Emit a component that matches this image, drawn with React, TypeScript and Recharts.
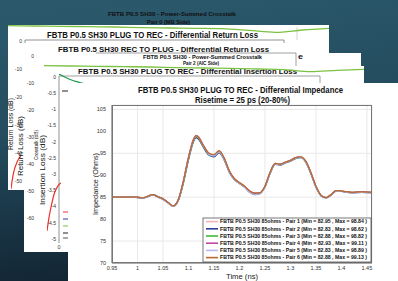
import React from "react";
import { LineChart, Line, XAxis, YAxis, CartesianGrid } from "recharts";

// main impedance plot
const TIME = [0.95, 0.97, 0.99, 1.0, 1.01, 1.02, 1.03, 1.04, 1.05, 1.06, 1.07, 1.08, 1.09, 1.1, 1.11, 1.115, 1.12, 1.13, 1.14, 1.15, 1.16, 1.17, 1.18, 1.19, 1.2, 1.21, 1.22, 1.23, 1.24, 1.25, 1.26, 1.27, 1.28, 1.29, 1.3, 1.31, 1.32, 1.33, 1.34, 1.35, 1.36, 1.37, 1.38, 1.39, 1.4, 1.42, 1.44, 1.46];
const PAIR1 = [85.0, 85.0, 85.0, 85.0, 84.8, 85.2, 85.6, 85.1, 84.6, 83.8, 83.0, 84.4, 88.5, 93.9, 98.0, 98.8, 98.4, 96.5, 95.0, 94.6, 95.5, 93.8, 91.0, 89.2, 88.3, 87.5, 86.4, 85.9, 86.0, 87.5, 90.6, 92.7, 92.5, 93.0, 93.4, 94.0, 94.2, 93.2, 90.6, 87.5, 85.4, 84.9, 85.6, 86.5, 86.4, 86.1, 86.2, 86.1];
const PAIR2 = [85.0, 85.0, 85.0, 84.9, 84.8, 85.1, 85.5, 85.0, 84.5, 83.7, 82.9, 84.2, 88.2, 93.5, 97.7, 98.6, 98.2, 96.2, 94.6, 94.2, 95.1, 93.5, 90.7, 89.0, 88.1, 87.3, 86.1, 85.6, 85.8, 87.3, 90.4, 92.5, 92.3, 92.8, 93.2, 93.8, 94.0, 93.0, 90.4, 87.3, 85.3, 84.8, 85.5, 86.4, 86.3, 86.0, 86.1, 86.0];
const PAIR3 = [85.0, 85.0, 85.0, 85.0, 84.8, 85.2, 85.6, 85.1, 84.6, 83.8, 83.0, 84.3, 88.4, 93.8, 97.9, 98.8, 98.4, 96.4, 94.8, 94.4, 95.3, 93.7, 90.9, 89.1, 88.2, 87.4, 86.3, 85.8, 85.9, 87.4, 90.5, 92.6, 92.4, 92.9, 93.3, 93.9, 94.1, 93.1, 90.5, 87.4, 85.4, 84.9, 85.6, 86.5, 86.4, 86.1, 86.2, 86.1];
const PAIR4 = [85.0, 85.0, 85.0, 85.0, 84.8, 85.2, 85.6, 85.1, 84.6, 83.8, 83.0, 84.4, 88.7, 94.1, 98.3, 99.1, 98.7, 96.7, 95.0, 94.6, 95.5, 93.9, 91.0, 89.2, 88.3, 87.5, 86.4, 85.9, 86.0, 87.5, 90.6, 92.7, 92.5, 93.0, 93.4, 94.0, 94.2, 93.2, 90.6, 87.5, 85.4, 84.9, 85.6, 86.5, 86.4, 86.1, 86.2, 86.1];
const PAIR5 = [85.0, 85.0, 85.0, 84.9, 84.8, 85.1, 85.5, 85.0, 84.5, 83.7, 82.9, 84.3, 88.5, 93.9, 98.0, 98.9, 98.5, 96.5, 94.8, 94.4, 95.3, 93.6, 90.8, 89.0, 88.1, 87.3, 86.1, 85.6, 85.8, 87.4, 90.5, 92.6, 92.4, 92.9, 93.3, 93.9, 94.1, 93.1, 90.5, 87.4, 85.3, 84.8, 85.5, 86.4, 86.3, 86.0, 86.1, 86.0];
const PAIR6 = [85.0, 85.0, 85.0, 85.0, 84.8, 85.2, 85.6, 85.1, 84.6, 83.8, 83.0, 84.4, 88.6, 94.0, 98.1, 99.0, 98.6, 96.6, 95.0, 94.7, 95.6, 93.9, 91.0, 89.2, 88.3, 87.5, 86.4, 85.9, 86.0, 87.5, 90.6, 92.7, 92.5, 93.0, 93.4, 94.0, 94.2, 93.2, 90.6, 87.5, 85.4, 84.9, 85.6, 86.5, 86.4, 86.1, 86.2, 86.1];

const X_TICKS = [0.95, 1, 1.05, 1.1, 1.15, 1.2, 1.25, 1.3, 1.35, 1.4, 1.45];
const Y_TICKS = [70, 75, 80, 85, 90, 95, 100, 105];

const PAIR_NAMES = ["Pair 1", "Pair 2", "Pair 3", "Pair 4", "Pair 5", "Pair 6"];
const PAIR_MIN = ["82.95", "82.83", "82.88", "82.93", "82.83", "82.88"];
const PAIR_MAX = ["98.84", "98.62", "98.82", "99.11", "98.89", "99.13"];
const PAIR_COLORS = ["#f5b3b3", "#2b3c9c", "#3dba3d", "#c7479f", "#b4b9ee", "#b86a2c"];

// bits of the screenshots stacked behind
const RL_TOP_X = [0, 1, 2, 3, 4, 5, 6, 7, 8, 9, 10, 11, 12];
const RL_TOP_Y = [-0.2, -0.3, -0.4, -0.5, -0.6, -0.8, -0.9, -1.0, -1.1, -1.6, -2.2, -1.5, -1.0];
const IL_TOP_Y = [-0.2, -0.3, -0.4, -0.5, -0.6, -0.8, -0.9, -1.0, -1.2, -1.4, -2.0, -1.6, -1.3];
const IL_CURVE_X = [0, 1, 2, 3, 4, 5, 6];
const IL_CURVE_Y = [0, -0.8, -1.5, -2.1, -2.6, -3.0, -3.4];
const RED_X = [0, 1, 2, 3, 4, 5, 6];
const RED_B = [-50, -38, -30, -25, -21, -18, -16];
const RED_E = [-5, -4.2, -3.6, -3.1, -2.8, -2.6, -2.5];

const FONT = "'Liberation Sans', Arial, sans-serif";

const rows = TIME.map((t, i) => ({
  t,
  p1: PAIR1[i],
  p2: PAIR2[i],
  p3: PAIR3[i],
  p4: PAIR4[i],
  p5: PAIR5[i],
  p6: PAIR6[i],
}));

function Txt({ x, y, len, size = 8.5, children, anchor = "start", rot = 0, weight = "bold", fill = "#111" }: any) {
  return (
    <text
      x={x}
      y={y}
      fontSize={size}
      fontWeight={weight}
      fontFamily={FONT}
      fill={fill}
      textAnchor={anchor}
      textLength={len}
      lengthAdjust="spacingAndGlyphs"
      transform={rot ? `rotate(${rot} ${x} ${y})` : undefined}
    >
      {children}
    </text>
  );
}

function Mini({ xs, ys, color, left, top, w, h, xd, yd, sw = 1.2 }: any) {
  const data = xs.map((x: number, i: number) => ({ x, y: ys[i] }));
  return (
    <div style={{ position: "absolute", left, top }}>
      <LineChart width={w} height={h} data={data} margin={{ top: 0, right: 0, bottom: 0, left: 0 }}>
        <XAxis dataKey="x" type="number" domain={xd} hide />
        <YAxis type="number" domain={yd} hide />
        <Line dataKey="y" type="monotone" stroke={color} strokeWidth={sw} dot={false} isAnimationActive={false} />
      </LineChart>
    </div>
  );
}

const layer: React.CSSProperties = { position: "absolute", left: 0, top: 0, width: 398, height: 281 };

function Layer({ children }: any) {
  return <div style={layer}>{children}</div>;
}

function Ticks({ x, labels, y0, step, size = 5 }: any) {
  return labels.map((l: string, i: number) => (
    <Txt key={i} x={x} y={y0 + i * step + size * 0.35} size={size} weight="normal" anchor="end" fill="#333">
      {l}
    </Txt>
  ));
}

export default function App() {
  const legendTop = 218;
  return (
    <div
      style={{
        position: "fixed",
        left: 0,
        top: 0,
        width: 398,
        height: 281,
        overflow: "hidden",
        background: "linear-gradient(172deg, #2c5a6d 0%, #244d5f 40%, #183242 70%, #0e1b27 100%)",
        fontFamily: FONT,
      }}
    >
      {/* crosstalk MB side header */}
      <Layer>
        <svg width={398} height={281} style={layer}>
          <Txt x={108} y={16} len={128} size={6}>FBTB P0.5 SH30 - Power-Summed Crosstalk</Txt>
          <Txt x={147} y={24} len={43} size={6}>Pair 0 (MB Side)</Txt>
        </svg>
      </Layer>

      {/* return loss plug->rec */}
      <Layer>
        <svg width={398} height={281} style={layer}>
          <rect x={8} y={25} width={321} height={165} fill="#fff" />
          <line x1={25} y1={40} x2={284} y2={40} stroke="#777" strokeWidth={0.8} />
          <line x1={284} y1={40} x2={284} y2={52} stroke="#777" strokeWidth={0.8} />
          <line x1={297} y1={27} x2={297} y2={40} stroke="#ccc" strokeWidth={0.8} />
          <line x1={25} y1={40} x2={25} y2={190} stroke="#777" strokeWidth={0.8} />
          <Txt x={47} y={38} len={211}>FBTB P0.5 SH30 PLUG TO REC - Differential Return Loss</Txt>
          <Ticks x={22} labels={["0", "-10", "-20", "-30", "-40", "-50"]} y0={41} step={28} />
          <Txt x={13} y={150} len={52} size={6.5} weight="normal" rot={-90}>Return Loss (dB)</Txt>
        </svg>
        <Mini xs={RL_TOP_X} ys={RL_TOP_Y} color="#7cc242" left={8} top={25} w={321} h={8} xd={[0, 12]} yd={[-2.4, 0]} sw={1.3} />
        <Mini xs={RED_X} ys={RED_B} color="#e8322a" left={11} top={155} w={10} h={36} xd={[0, 6]} yd={[-52, -15]} />
      </Layer>

      {/* return loss rec->plug */}
      <Layer>
        <svg width={398} height={281} style={layer}>
          <rect x={24} y={43} width={296} height={209} fill="#fff" />
          <line x1={37} y1={55} x2={60} y2={55} stroke="#777" strokeWidth={0.8} />
          <line x1={37} y1={55} x2={37} y2={232} stroke="#777" strokeWidth={0.8} />
          <Txt x={58} y={52} len={211} size={8}>FBTB P0.5 SH30 REC TO PLUG - Differential Return Loss</Txt>
          <Ticks x={34} labels={["0", "-10", "-20", "-30", "-40", "-50", "-60"]} y0={56} step={27} />
          <Txt x={23} y={176} len={60} size={6.5} weight="normal" rot={-90}>Return Loss (dB)</Txt>
          <Txt x={37} y={240} len={3} size={5} weight="normal" anchor="middle" fill="#333">0</Txt>
          <line x1={36.5} y1={132} x2={37.5} y2={230} stroke="#a0522d" strokeWidth={1.4} />
        </svg>
      </Layer>

      {/* crosstalk AIC side */}
      <Layer>
        <svg width={398} height={281} style={layer}>
          <rect x={35} y={53} width={326} height={199} fill="#fff" />
          <line x1={96} y1={53} x2={296} y2={53} stroke="#888" strokeWidth={0.8} />
          <line x1={296} y1={53} x2={296} y2={66} stroke="#888" strokeWidth={0.8} />
          <Txt x={143} y={59} len={119} size={4.8}>FBTB P0.5 SH30 - Power-Summed Crosstalk</Txt>
          <Txt x={183} y={65} len={36} size={4.8}>Pair 2 (AIC Side)</Txt>
          <Txt x={298} y={59} len={5} size={7}>e</Txt>
          <Txt x={38} y={160} len={30} size={5} weight="normal" rot={-90}>Crosstalk (dB)</Txt>
          <line x1={47} y1={153} x2={68} y2={153} stroke="#222" strokeWidth={1} />
        </svg>
      </Layer>

      {/* insertion loss */}
      <Layer>
        <svg width={398} height={281} style={layer}>
          <rect x={44} y={66} width={320} height={186} fill="#fff" />
          <line x1={59} y1={76} x2={320} y2={76} stroke="#888" strokeWidth={0.8} />
          <line x1={320} y1={76} x2={320} y2={84} stroke="#888" strokeWidth={0.8} />
          <line x1={59} y1={76} x2={59} y2={243} stroke="#777" strokeWidth={0.8} />
          <Txt x={78} y={74} len={219} size={8}>FBTB P0.5 SH30 PLUG TO REC - Differential Insertion Loss</Txt>
          <Ticks
            x={56}
            labels={["0", "-0.5", "-1", "-1.5", "-2", "-2.5", "-3", "-3.5", "-4", "-4.5", "-5"]}
            y0={77}
            step={16.2}
          />
          <Txt x={45} y={205} len={70} size={6.5} weight="normal" rot={-90}>Insertion Loss (dB)</Txt>
          <Txt x={59} y={249} len={3} size={5} weight="normal" anchor="middle" fill="#333">0</Txt>
          <line x1={62} y1={91} x2={68} y2={91} stroke="#222" strokeWidth={1} />
          <line x1={63} y1={212} x2={68} y2={212} stroke="#e8322a" strokeWidth={1} />
          <line x1={63} y1={219} x2={68} y2={219} stroke="#2b3c9c" strokeWidth={1} />
          <line x1={63} y1={226} x2={68} y2={226} stroke="#7cc242" strokeWidth={1} />
          <line x1={63} y1={233} x2={68} y2={233} stroke="#222" strokeWidth={1} />
          <line x1={63} y1={238} x2={68} y2={238} stroke="#555" strokeWidth={1} />
        </svg>
        <Mini xs={RL_TOP_X} ys={IL_TOP_Y} color="#7cc242" left={44} top={65} w={320} h={8} xd={[0, 12]} yd={[-2.4, 0]} sw={1.3} />
        <Mini xs={IL_CURVE_X} ys={IL_CURVE_Y} color="#1f9a4a" left={59} top={74} w={25} h={10} xd={[0, 6]} yd={[-3.5, 0]} />
        <Mini xs={RED_X} ys={RED_E} color="#e8322a" left={47} top={181} w={14} h={51} xd={[0, 6]} yd={[-5.05, -2.4]} />
      </Layer>

      {/* impedance */}
      <div style={{ position: "absolute", left: 68, top: 83, width: 330, height: 198, background: "#fff" }}>
        <LineChart width={330} height={198} data={rows} margin={{ top: 22, right: 26, bottom: 0, left: 0 }}>
          <CartesianGrid stroke="#e9e9e9" />
          <XAxis
            dataKey="t"
            type="number"
            domain={[0.95, 1.46]}
            ticks={X_TICKS}
            allowDataOverflow
            height={18}
            tickLine={false}
            tickSize={0}
            tickMargin={3}
            axisLine={{ stroke: "#666" }}
            tick={{ fontSize: 5.5, fill: "#333", fontFamily: FONT }}
          />
          <YAxis
            type="number"
            domain={[70, 106]}
            ticks={Y_TICKS}
            allowDataOverflow
            width={44}
            tickLine={false}
            tickSize={0}
            tickMargin={6}
            axisLine={{ stroke: "#666" }}
            tick={{ fontSize: 5.5, fill: "#333", fontFamily: FONT }}
          />
          {["p1", "p2", "p3", "p4", "p5", "p6"].map((k, i) => (
            <Line
              key={k}
              dataKey={k}
              type="monotone"
              stroke={PAIR_COLORS[i]}
              strokeWidth={1.3}
              dot={false}
              isAnimationActive={false}
            />
          ))}
        </LineChart>
      </div>
      <div
        style={{
          position: "absolute",
          left: 112,
          top: 105,
          width: 260,
          height: 158,
          border: "1px solid #777",
          boxSizing: "border-box",
        }}
      />
      <svg width={398} height={281} style={layer}>
        <Txt x={138} y={93} len={205}>FBTB P0.5 SH30 PLUG TO REC - Differential Impedance</Txt>
        <Txt x={195} y={103} len={95}>Risetime = 25 ps (20-80%)</Txt>
        <Txt x={98} y={215} len={62} size={7.5} weight="normal" rot={-90} fill="#222">Impedance (Ohms)</Txt>
        <Txt x={226} y={279} len={32} size={8} weight="normal" fill="#222">Time (ns)</Txt>
        <rect x={203} y={legendTop} width={168} height={44} fill="#fff" stroke="#555" strokeWidth={0.8} />
        {PAIR_NAMES.map((n, i) => {
          const cy = legendTop + 3.6 + i * 7.2;
          return (
            <g key={n}>
              <line x1={206} y1={cy} x2={218} y2={cy} stroke={PAIR_COLORS[i]} strokeWidth={1.6} />
              <Txt x={220} y={cy + 1.8} len={147} size={5.2}>
                {`FBTB P0.5 SH30 85ohms - ${n} (Min = ${PAIR_MIN[i]} , Max = ${PAIR_MAX[i]} )`}
              </Txt>
            </g>
          );
        })}
      </svg>
    </div>
  );
}
